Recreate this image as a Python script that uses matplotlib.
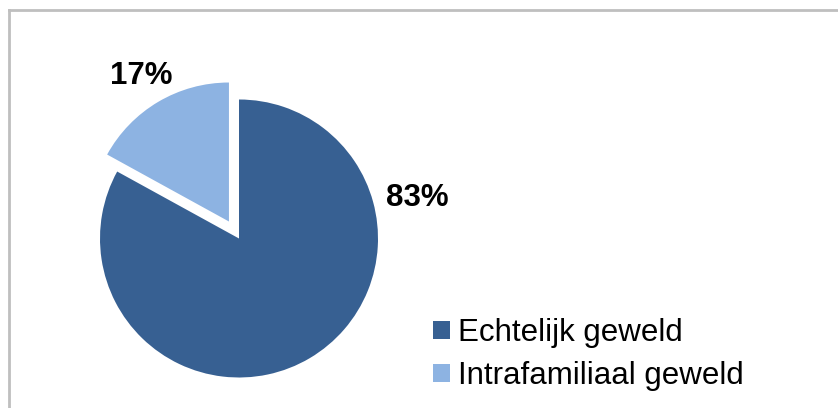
import matplotlib
matplotlib.use("Agg")
import matplotlib.pyplot as plt
from matplotlib.lines import Line2D

categories = ["Echtelijk geweld", "Intrafamiliaal geweld"]
values = [83, 17]
labels = ["83%", "17%"]
colors = ["#376092", "#8DB3E2"]

W, H = 838, 408
R = 139
fig = plt.figure(figsize=(W / 100, H / 100), dpi=100)
ax = fig.add_axes([0, 0, 1, 1])
ax.set_xlim(0, W)
ax.set_ylim(0, H)
ax.set_aspect("equal")
ax.axis("off")

plt.rcParams["font.family"] = ["Liberation Sans", "DejaVu Sans"]

# explode is in data units in matplotlib (offset of the pulled-out slice)
wedges, _ = ax.pie(values, colors=colors, startangle=90, counterclock=False,
                   center=(239, H - 238.5), radius=R, explode=[0, 0.142 * R],
                   wedgeprops=dict(linewidth=0))
ax.set_xlim(0, W)
ax.set_ylim(0, H)

# data labels
ax.text(417, H - 198.5, labels[0], fontsize=22.5, fontweight="bold",
        ha="center", va="center", family=["Liberation Sans"])
ax.text(141, H - 76, labels[1], fontsize=22.5, fontweight="bold",
        ha="center", va="center", family=["Liberation Sans"])

# border (top and left)
ax.add_line(Line2D([8.5, 8.5], [0, H - 9.5], color="#BFBFBF", lw=2))
ax.add_line(Line2D([8.5, W], [H - 9.5, H - 9.5], color="#BFBFBF", lw=2))

leg = ax.legend(wedges, categories, loc="upper left",
                bbox_to_anchor=(433 / W, 1 - 318 / H),
                bbox_transform=fig.transFigure, frameon=False,
                prop=dict(family="Liberation Sans", size=22.5),
                handlelength=0.54, handleheight=0.54, handletextpad=0.26,
                labelspacing=0.42, borderpad=0, borderaxespad=0)

fig.savefig("out.png", dpi=100)
